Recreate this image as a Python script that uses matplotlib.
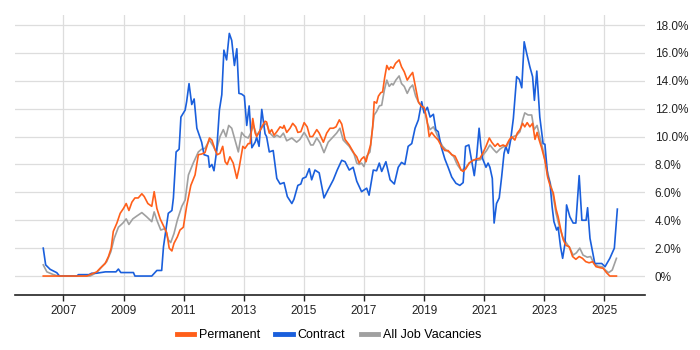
import matplotlib
matplotlib.use("Agg")
import matplotlib.pyplot as plt
from matplotlib.ticker import FuncFormatter

contract_t = [2006.33, 2006.41, 2006.56, 2006.78, 2006.87, 2007.45, 2007.5, 2007.85, 2007.94, 2008.1, 2008.4,
              2008.75, 2008.83, 2008.91, 2009.33, 2009.38, 2009.94, 2010.11, 2010.27,
              2010.33, 2010.49, 2010.61, 2010.66, 2010.75, 2010.85, 2010.91, 2011.05, 2011.10, 2011.18,
              2011.27, 2011.35, 2011.44, 2011.60, 2011.68, 2011.82, 2011.86, 2011.94, 2012.01, 2012.10,
              2012.19, 2012.27, 2012.34, 2012.43, 2012.52, 2012.60, 2012.69, 2012.77, 2012.84, 2012.93,
              2013.02, 2013.10, 2013.18, 2013.27, 2013.38, 2013.43, 2013.51, 2013.60, 2013.71, 2013.76,
              2013.85, 2013.98, 2014.10, 2014.21, 2014.34, 2014.45, 2014.60, 2014.67, 2014.80, 2014.90,
              2014.96, 2015.07, 2015.18, 2015.26, 2015.37, 2015.51, 2015.67, 2015.81, 2015.98, 2016.11,
              2016.26, 2016.37, 2016.51, 2016.64, 2016.76, 2016.92, 2017.09, 2017.17, 2017.31, 2017.42,
              2017.51, 2017.59, 2017.73, 2017.87, 2018.01, 2018.14, 2018.25, 2018.36, 2018.47, 2018.59,
              2018.70, 2018.81, 2018.92, 2019.00, 2019.11, 2019.20, 2019.31, 2019.39, 2019.47, 2019.58,
              2019.69, 2019.80, 2019.92, 2020.06, 2020.19, 2020.30, 2020.38, 2020.49, 2020.58, 2020.67,
              2020.75, 2020.83, 2020.89, 2020.95, 2021.06, 2021.13, 2021.19, 2021.27, 2021.33, 2021.41,
              2021.50, 2021.58, 2021.66, 2021.72, 2021.80, 2021.88, 2021.97, 2022.08, 2022.17, 2022.25,
              2022.33, 2022.41, 2022.52, 2022.61, 2022.67, 2022.75, 2022.85, 2022.96, 2023.02, 2023.11,
              2023.19, 2023.26, 2023.32, 2023.41, 2023.46, 2023.54, 2023.61, 2023.69, 2023.74, 2023.85,
              2023.96, 2024.05, 2024.16, 2024.25, 2024.39, 2024.44, 2024.52, 2024.68, 2024.91, 2025.02,
              2025.18, 2025.33, 2025.43]
contract_v = [2.0, 0.8, 0.48, 0.24, 0.0, 0.0, 0.1, 0.1, 0.2, 0.2, 0.3,
              0.3, 0.5, 0.25, 0.25, 0.0, 0.0, 0.4, 0.4,
              2.1, 4.5, 4.7, 5.6, 8.9, 9.1, 11.4, 11.9, 12.5, 13.8,
              12.3, 12.7, 10.6, 9.6, 8.7, 8.6, 7.8, 8.0, 7.55, 9.0,
              11.9, 13.0, 16.2, 15.5, 17.4, 16.9, 15.1, 16.3, 13.1, 13.05,
              12.9, 10.8, 12.2, 9.2, 9.6, 9.95, 9.3, 11.95, 10.2, 10.0,
              8.9, 9.0, 7.0, 6.6, 6.7, 5.7, 5.2, 5.5, 6.5, 6.6,
              7.0, 7.1, 7.7, 6.9, 7.6, 7.4, 5.6, 6.2, 6.9, 7.6,
              8.3, 8.2, 7.6, 7.8, 6.8, 6.05, 6.3, 5.8, 7.6, 7.55,
              8.1, 7.5, 8.2, 6.9, 6.6, 7.8, 8.15, 8.0, 9.3, 9.5,
              10.6, 11.2, 12.5, 11.7, 12.1, 11.4, 11.6, 10.5, 10.35, 9.2,
              8.4, 7.8, 7.1, 6.65, 6.5, 6.7, 9.3, 9.4, 8.3, 7.2,
              8.6, 10.6, 9.3, 8.4, 7.8, 8.1, 7.8, 7.0, 3.8, 5.2,
              5.6, 7.1, 8.8, 9.3, 8.8, 9.75, 11.3, 14.3, 14.1, 13.5,
              16.8, 16.0, 15.0, 14.3, 12.6, 14.7, 11.4, 9.5, 9.45, 7.25,
              6.65, 4.97, 3.9, 3.3, 3.5, 2.1, 1.27, 2.35, 5.1, 4.25,
              3.8, 3.8, 7.2, 4.0, 4.0, 4.9, 2.7, 0.9, 0.9, 0.67,
              1.27, 2.0, 4.8]

perm_t = [2006.33, 2006.87, 2007.78, 2007.89, 2008.11, 2008.22, 2008.39, 2008.50, 2008.59, 2008.66,
          2008.78, 2008.89, 2009.00, 2009.09, 2009.18, 2009.28, 2009.38, 2009.49, 2009.61, 2009.69,
          2009.81, 2009.94, 2010.02, 2010.11, 2010.22, 2010.35, 2010.44, 2010.52, 2010.61, 2010.68,
          2010.79, 2010.88, 2010.99, 2011.10, 2011.24, 2011.38, 2011.49, 2011.60, 2011.71, 2011.86,
          2011.94, 2012.04, 2012.12, 2012.21, 2012.30, 2012.38, 2012.45, 2012.54, 2012.65, 2012.77,
          2012.85, 2012.97, 2013.04, 2013.15, 2013.21, 2013.30, 2013.38, 2013.43, 2013.52, 2013.60,
          2013.71, 2013.76, 2013.85, 2013.93, 2014.01, 2014.10, 2014.21, 2014.30, 2014.34, 2014.43,
          2014.54, 2014.63, 2014.73, 2014.80, 2014.90, 2015.01, 2015.11, 2015.20, 2015.29, 2015.43,
          2015.51, 2015.65, 2015.76, 2015.87, 2015.98, 2016.07, 2016.18, 2016.26, 2016.37, 2016.51,
          2016.67, 2016.76, 2016.84, 2016.92, 2017.00, 2017.07, 2017.14, 2017.22, 2017.29, 2017.34,
          2017.42, 2017.48, 2017.56, 2017.62, 2017.69, 2017.76, 2017.83, 2017.89, 2017.97, 2018.05,
          2018.17, 2018.25, 2018.34, 2018.44, 2018.53, 2018.62, 2018.70, 2018.81, 2018.92, 2019.00,
          2019.09, 2019.17, 2019.25, 2019.36, 2019.47, 2019.58, 2019.69, 2019.80, 2019.92, 2020.03,
          2020.14, 2020.23, 2020.30, 2020.39, 2020.50, 2020.63, 2020.75, 2020.86, 2020.95, 2021.06,
          2021.17, 2021.25, 2021.36, 2021.45, 2021.52, 2021.63, 2021.72, 2021.83, 2021.91, 2022.02,
          2022.10, 2022.19, 2022.28, 2022.35, 2022.43, 2022.52, 2022.61, 2022.69, 2022.76, 2022.83,
          2022.91, 2023.02, 2023.11, 2023.19, 2023.30, 2023.39, 2023.46, 2023.55, 2023.63, 2023.72,
          2023.83, 2023.94, 2024.05, 2024.16, 2024.27, 2024.38, 2024.49, 2024.61, 2024.72, 2024.85,
          2024.96, 2025.07, 2025.18, 2025.40]
perm_v = [0.0, 0.0, 0.0, 0.1, 0.3, 0.55, 0.9, 1.4, 2.0, 3.2,
          3.8, 4.5, 4.85, 5.2, 4.7, 5.3, 5.6, 5.6, 5.9, 5.7,
          5.2, 5.0, 6.05, 4.85, 4.1, 3.5, 3.1, 2.0, 1.8, 2.35,
          2.8, 3.3, 3.5, 5.0, 6.5, 7.25, 8.7, 8.75, 8.85, 9.9,
          9.75, 9.1, 8.7, 8.8, 9.3, 8.2, 8.0, 8.55, 8.1, 7.0,
          7.8, 9.3, 9.15, 9.5, 9.5, 11.3, 10.25, 10.0, 10.35, 10.7,
          11.1, 11.05, 10.25, 10.5, 10.1, 10.35, 10.7, 10.6, 10.8, 10.3,
          10.6, 10.95, 10.7, 10.3, 10.35, 11.0, 10.7, 10.0, 10.0, 10.5,
          10.25, 9.6, 10.25, 10.6, 10.6, 10.7, 11.2, 10.9, 9.8, 9.4,
          8.8, 8.55, 8.1, 8.4, 8.55, 8.2, 8.8, 9.4, 10.7, 12.5,
          12.4, 12.9, 13.15, 13.2, 14.25, 15.1, 14.8, 15.0, 14.9, 15.25,
          15.5, 15.0, 14.65, 14.05, 14.35, 14.6, 13.7, 12.5, 12.15, 12.1,
          11.3, 10.0, 10.3, 10.0, 9.75, 9.3, 9.0, 9.0, 8.7, 8.6,
          8.1, 7.6, 7.5, 7.7, 8.1, 8.3, 8.4, 8.45, 8.8, 9.3,
          9.9, 9.6, 9.3, 9.5, 9.3, 9.4, 9.3, 9.75, 10.0, 9.75,
          10.25, 10.5, 10.95, 10.7, 11.0, 10.7, 10.95, 9.8, 10.3, 9.75,
          9.2, 8.3, 7.1, 6.5, 5.95, 4.8, 4.25, 3.3, 2.6, 2.2,
          2.1, 1.4, 1.2, 1.4, 1.27, 1.03, 0.95, 1.03, 0.67, 0.6,
          0.55, 0.24, 0.0, 0.0]

all_t = [2006.33, 2006.45, 2006.67, 2006.83, 2007.89, 2008.11, 2008.28, 2008.44, 2008.58, 2008.69,
         2008.83, 2008.98, 2009.09, 2009.18, 2009.31, 2009.44, 2009.61, 2009.77, 2009.94, 2010.02,
         2010.11, 2010.24, 2010.38, 2010.49, 2010.57, 2010.68, 2010.79, 2010.94, 2011.05, 2011.16,
         2011.32, 2011.49, 2011.60, 2011.71, 2011.86, 2011.99, 2012.08, 2012.21, 2012.32, 2012.41,
         2012.50, 2012.60, 2012.71, 2012.82, 2012.93, 2013.04, 2013.15, 2013.23, 2013.32, 2013.43,
         2013.52, 2013.65, 2013.76, 2013.87, 2014.01, 2014.10, 2014.21, 2014.32, 2014.43, 2014.60,
         2014.76, 2014.87, 2015.01, 2015.11, 2015.23, 2015.31, 2015.43, 2015.54, 2015.67, 2015.81,
         2015.98, 2016.09, 2016.20, 2016.31, 2016.51, 2016.67, 2016.76, 2016.84, 2016.92, 2017.00,
         2017.09, 2017.20, 2017.29, 2017.34, 2017.42, 2017.51, 2017.59, 2017.68, 2017.76, 2017.84,
         2017.92, 2017.97, 2018.06, 2018.17, 2018.25, 2018.34, 2018.44, 2018.53, 2018.62, 2018.72,
         2018.83, 2018.94, 2019.03, 2019.11, 2019.20, 2019.31, 2019.39, 2019.50, 2019.62, 2019.75,
         2019.86, 2019.99, 2020.10, 2020.23, 2020.36, 2020.50, 2020.63, 2020.75, 2020.88, 2020.97,
         2021.08, 2021.19, 2021.30, 2021.41, 2021.52, 2021.66, 2021.75, 2021.86, 2021.97, 2022.08,
         2022.19, 2022.28, 2022.35, 2022.46, 2022.58, 2022.66, 2022.76, 2022.85, 2022.96, 2023.08,
         2023.19, 2023.28, 2023.39, 2023.49, 2023.61, 2023.74, 2023.85, 2023.96, 2024.07, 2024.18,
         2024.29, 2024.43, 2024.54, 2024.65, 2024.79, 2024.92, 2025.03, 2025.14, 2025.26, 2025.40]
all_v = [0.8, 0.3, 0.1, 0.0, 0.0, 0.25, 0.67, 1.03, 1.75, 2.7,
         3.5, 3.8, 4.1, 3.7, 4.1, 4.3, 4.55, 4.25, 3.9, 4.6,
         4.0, 3.3, 3.4, 2.6, 2.4, 3.05, 4.0, 5.0, 5.45, 7.25,
         8.1, 8.9, 9.1, 9.15, 9.75, 9.3, 8.9, 10.0, 10.5, 10.0,
         10.8, 10.6, 9.75, 8.9, 10.3, 10.0, 9.9, 10.25, 10.8, 10.1,
         10.35, 10.8, 10.95, 10.25, 9.95, 10.1, 9.95, 10.25, 9.7, 9.9,
         9.6, 9.8, 10.3, 9.95, 9.4, 9.4, 9.9, 9.55, 8.85, 9.6,
         10.0, 10.25, 10.6, 9.75, 9.3, 8.75, 8.1, 8.0, 8.1, 7.85,
         8.6, 8.9, 10.7, 11.55, 11.8, 12.2, 12.25, 13.35, 14.05, 13.6,
         13.8, 13.7, 14.05, 14.35, 13.8, 13.6, 13.1, 13.5, 13.7, 12.9,
         12.4, 12.15, 11.7, 10.95, 10.5, 10.7, 10.35, 9.75, 9.3, 9.0,
         8.85, 8.55, 8.0, 7.6, 7.7, 8.1, 8.3, 8.3, 8.35, 8.7,
         9.0, 9.4, 9.1, 8.85, 9.1, 9.3, 9.3, 9.75, 10.0, 10.1,
         10.35, 11.2, 11.7, 11.55, 11.55, 10.5, 10.8, 10.0, 9.0, 7.7,
         6.75, 5.95, 4.5, 3.65, 2.8, 2.35, 2.0, 1.5, 1.67, 2.0,
         1.5, 1.35, 1.4, 0.9, 0.7, 0.67, 0.43, 0.24, 0.43, 1.27]

year_ticks = [2007, 2009, 2011, 2013, 2015, 2017, 2019, 2021, 2023, 2025]
pct_ticks = [0, 2, 4, 6, 8, 10, 12, 14, 16, 18]

plt.rcParams['font.family'] = ['Liberation Sans', 'DejaVu Sans']

fig = plt.figure(figsize=(7, 3.5), dpi=100)
ax = fig.add_axes([15/700, 55/350, 630/700, 280/350])

c_perm = '#ff5f1a'
c_con = '#1a5fdc'
c_all = '#a0a0a0'

ax.plot(all_t, all_v, color=c_all, lw=1.2, label='All Job Vacancies', zorder=3)
ax.plot(contract_t, contract_v, color=c_con, lw=1.2, label='Contract', zorder=4)
ax.plot(perm_t, perm_v, color=c_perm, lw=1.2, label='Permanent', zorder=5)

ax.set_xlim(2005.39, 2026.35)
ax.set_ylim(-1.36, 18.72)

ax.set_xticks(year_ticks)
ax.set_xticklabels([str(y) for y in year_ticks])
ax.set_yticks(pct_ticks)
ax.yaxis.set_major_formatter(FuncFormatter(lambda v, p: '0%' if v == 0 else f'{v:.1f}%'))
ax.yaxis.tick_right()

ax.grid(True, color='#dddddd', lw=0.9, zorder=0)
for s in ['top', 'left', 'right']:
    ax.spines[s].set_visible(False)
ax.spines['bottom'].set_color('#222222')
ax.spines['bottom'].set_linewidth(1.2)

ax.tick_params(axis='x', length=4, width=1, color='#222222', labelsize=8.5, labelcolor='#222222', pad=3)
ax.tick_params(axis='y', length=0, labelsize=8.5, labelcolor='#222222', pad=7)

handles, labels = ax.get_legend_handles_labels()
order = [2, 1, 0]
leg = fig.legend([handles[i] for i in order], [labels[i] for i in order],
                 loc='center', bbox_to_anchor=(0.47, 35/350 * 0.43), ncol=3, frameon=False,
                 fontsize=9, handlelength=1.4, handletextpad=0.4, columnspacing=1.2)
for line in leg.get_lines():
    line.set_linewidth(3.5)

fig.savefig('out.png', dpi=100)
